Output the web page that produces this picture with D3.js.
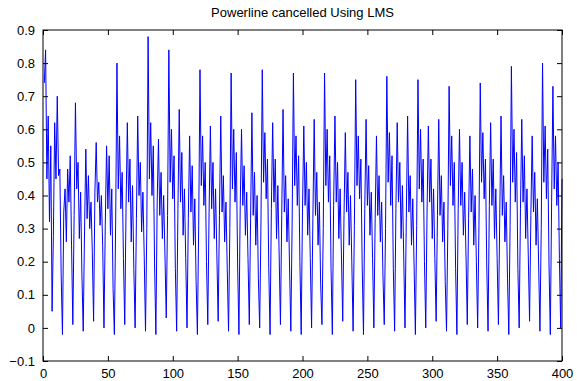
<!DOCTYPE html>
<html>
<head>
<meta charset="utf-8">
<script src="https://cdn.jsdelivr.net/npm/d3@7"></script>
<style>
  body { margin: 0; background: #fff; }
  svg { display: block; font-family: 'Liberation Sans', Arial, sans-serif; }
</style>
</head>
<body>
<svg id="chart" width="577" height="381"></svg>
<script>
// chart title
const title = 'Powerline cancelled Using LMS'

// tick labels
const xTicks = [0, 50, 100, 150, 200, 250, 300, 350, 400]
const yTicks = [-0.1, 0, 0.1, 0.2, 0.3, 0.4, 0.5, 0.6, 0.7, 0.8, 0.9]

// signal values, sample 1..400 (8 per row)
const signal = [
  0.74, 0.84, 0.45, 0.64, 0.32, 0.55, 0.05, 0.28,
  0.62, 0.45, 0.70, 0.46, 0.48, 0.16, -0.02, 0.35,
  0.42, 0.26, 0.48, 0.38, 0.52, 0.25, 0.01, 0.34,
  0.68, 0.42, 0.50, 0.27, 0.41, 0.16, -0.01, 0.29,
  0.54, 0.33, 0.46, 0.30, 0.38, 0.23, 0.02, 0.41,
  0.56, 0.38, 0.44, 0.31, 0.40, 0.25, 0.00, 0.31,
  0.55, 0.36, 0.52, 0.28, 0.42, 0.12, -0.02, 0.32,
  0.80, 0.42, 0.58, 0.36, 0.47, 0.21, 0.01, 0.36,
  0.62, 0.38, 0.51, 0.26, 0.43, 0.18, 0.00, 0.33,
  0.64, 0.40, 0.50, 0.29, 0.41, 0.22, -0.01, 0.30,
  0.88, 0.45, 0.62, 0.40, 0.55, 0.19, -0.02, 0.38,
  0.57, 0.34, 0.47, 0.27, 0.40, 0.22, 0.03, 0.34,
  0.84, 0.44, 0.60, 0.39, 0.52, 0.18, -0.01, 0.36,
  0.66, 0.38, 0.53, 0.28, 0.42, 0.21, 0.00, 0.33,
  0.58, 0.35, 0.49, 0.25, 0.39, 0.14, -0.02, 0.31,
  0.78, 0.43, 0.58, 0.37, 0.50, 0.20, 0.01, 0.35,
  0.61, 0.36, 0.50, 0.27, 0.42, 0.22, 0.02, 0.34,
  0.64, 0.35, 0.46, 0.26, 0.38, 0.18, -0.01, 0.30,
  0.77, 0.42, 0.60, 0.38, 0.53, 0.19, -0.02, 0.37,
  0.60, 0.37, 0.49, 0.28, 0.41, 0.21, 0.01, 0.33,
  0.65, 0.34, 0.47, 0.25, 0.40, 0.15, 0.00, 0.32,
  0.78, 0.44, 0.59, 0.39, 0.51, 0.18, -0.02, 0.36,
  0.62, 0.38, 0.51, 0.27, 0.43, 0.22, 0.01, 0.34,
  0.66, 0.35, 0.46, 0.26, 0.39, 0.19, -0.01, 0.31,
  0.77, 0.43, 0.58, 0.37, 0.52, 0.20, -0.02, 0.36,
  0.61, 0.37, 0.50, 0.28, 0.42, 0.21, 0.00, 0.33,
  0.63, 0.34, 0.47, 0.25, 0.38, 0.13, 0.01, 0.30,
  0.77, 0.43, 0.60, 0.38, 0.52, 0.18, -0.02, 0.37,
  0.64, 0.38, 0.50, 0.27, 0.42, 0.22, 0.02, 0.34,
  0.59, 0.35, 0.47, 0.25, 0.40, 0.20, -0.01, 0.31,
  0.75, 0.43, 0.58, 0.39, 0.51, 0.19, -0.02, 0.36,
  0.63, 0.37, 0.49, 0.28, 0.41, 0.21, 0.00, 0.33,
  0.58, 0.34, 0.46, 0.26, 0.38, 0.16, 0.01, 0.30,
  0.76, 0.44, 0.59, 0.37, 0.52, 0.18, -0.01, 0.36,
  0.62, 0.38, 0.50, 0.27, 0.43, 0.22, 0.00, 0.33,
  0.64, 0.35, 0.46, 0.25, 0.39, 0.19, -0.02, 0.31,
  0.75, 0.42, 0.60, 0.38, 0.51, 0.20, 0.00, 0.35,
  0.61, 0.38, 0.51, 0.27, 0.42, 0.21, 0.02, 0.34,
  0.63, 0.34, 0.46, 0.26, 0.38, 0.14, -0.01, 0.30,
  0.73, 0.43, 0.58, 0.37, 0.50, 0.18, -0.02, 0.36,
  0.60, 0.37, 0.50, 0.28, 0.41, 0.22, 0.01, 0.33,
  0.58, 0.35, 0.48, 0.25, 0.40, 0.20, 0.00, 0.31,
  0.74, 0.44, 0.59, 0.39, 0.51, 0.19, -0.01, 0.37,
  0.62, 0.37, 0.51, 0.27, 0.42, 0.21, 0.01, 0.33,
  0.64, 0.34, 0.46, 0.26, 0.38, 0.15, -0.02, 0.31,
  0.79, 0.44, 0.60, 0.38, 0.53, 0.18, 0.00, 0.36,
  0.63, 0.38, 0.52, 0.27, 0.42, 0.22, 0.02, 0.34,
  0.58, 0.35, 0.47, 0.25, 0.39, 0.19, -0.01, 0.30,
  0.80, 0.44, 0.61, 0.39, 0.54, 0.19, -0.02, 0.38,
  0.73, 0.42, 0.58, 0.37, 0.50, 0.21, 0.00, 0.45
]

const svg = d3.select('#chart')
const margin = {top: 30, right: 15, bottom: 20, left: 43}
const width = 577 - margin.left - margin.right
const height = 381 - margin.top - margin.bottom

const x = d3.scaleLinear().domain([0, 400]).range([0, width])
const y = d3.scaleLinear().domain([-0.1, 0.9]).range([height, 0])

const g = svg.append('g')
  .attr('transform', 'translate(' + margin.left + ',' + margin.top + ')')

// data line
const line = d3.line()
  .x((d, i) => x(i + 1))
  .y((d) => y(d))

g.append('path')
  .datum(signal)
  .attr('fill', 'none')
  .attr('stroke', '#0000ff')
  .attr('stroke-width', 1)
  .attr('d', line)

// axes, matlab style: inward ticks on all four sides
const tick = 5
const styleAxis = (sel) => {
  sel.selectAll('.domain').remove()
  sel.selectAll('line').attr('stroke', '#000')
  sel.selectAll('text').attr('fill', '#000').style('font-size', '13px')
}

g.append('g')
  .attr('transform', 'translate(0,' + height + ')')
  .call(d3.axisBottom(x).tickValues(xTicks).tickSizeInner(-tick).tickSizeOuter(0).tickPadding(8))
  .call(styleAxis)

g.append('g')
  .call(d3.axisTop(x).tickValues(xTicks).tickSizeInner(-tick).tickSizeOuter(0).tickFormat(''))
  .call(styleAxis)

g.append('g')
  .call(d3.axisLeft(y).tickValues(yTicks).tickSizeInner(-tick).tickSizeOuter(0).tickPadding(8)
    .tickFormat((d) => d3.format('')(+d.toFixed(1))))
  .call(styleAxis)

g.append('g')
  .attr('transform', 'translate(' + width + ',0)')
  .call(d3.axisRight(y).tickValues(yTicks).tickSizeInner(-tick).tickSizeOuter(0).tickFormat(''))
  .call(styleAxis)

// box
g.append('rect')
  .attr('width', width)
  .attr('height', height)
  .attr('fill', 'none')
  .attr('stroke', '#000')
  .attr('stroke-width', 1)

// title
svg.append('text')
  .attr('x', margin.left + width / 2)
  .attr('y', 17)
  .attr('text-anchor', 'middle')
  .style('font-size', '13px')
  .text(title)
</script>
</body>
</html>
